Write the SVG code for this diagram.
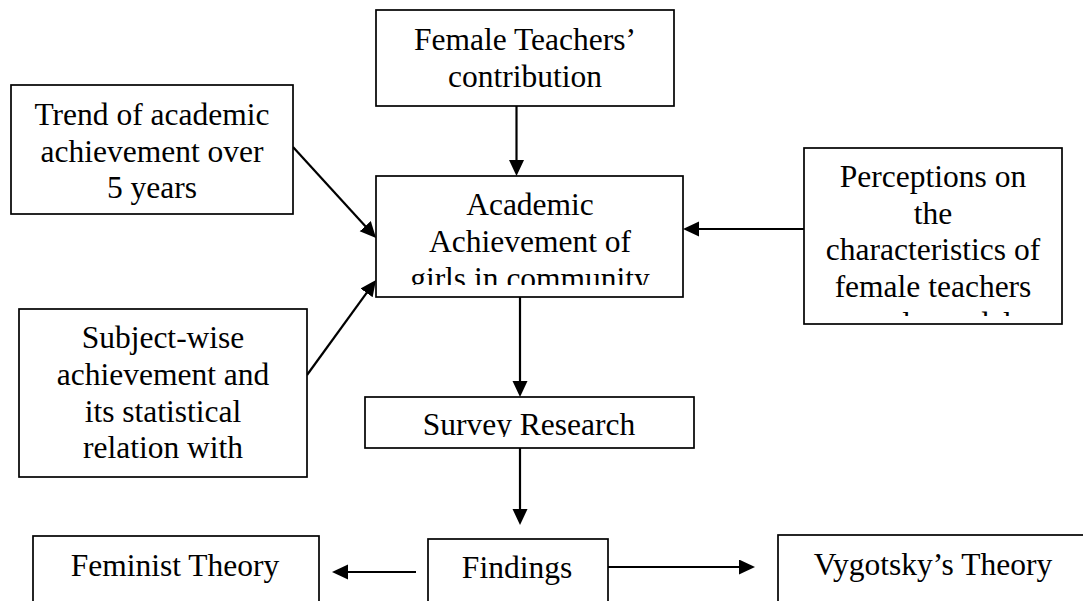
<svg xmlns="http://www.w3.org/2000/svg" width="1083" height="601" viewBox="0 0 1083 601">
<style>
.box{fill:#fff;stroke:#000;stroke-width:1.7}
.t{font-family:"Liberation Serif","Times New Roman",serif;font-size:31.5px;fill:#000;text-anchor:middle}
.c{stroke:#000;stroke-width:2.2;fill:none;marker-end:url(#ah)}
</style>
<defs>
<marker id="ah" markerUnits="userSpaceOnUse" markerWidth="18" markerHeight="16" refX="6" refY="7.5" orient="auto">
<path d="M0,0 L16,7.5 L0,15 z" fill="#000"/>
</marker>
<clipPath id="clipA"><rect x="376" y="176" width="307" height="109"/></clipPath>
<clipPath id="clipP"><rect x="804" y="148" width="258" height="168"/></clipPath>
<clipPath id="clipS"><rect x="365" y="397" width="329" height="40"/></clipPath>
</defs>
<rect width="1083" height="601" fill="#fff"/>
<g id="connectors">
<line class="c" x1="516.5" y1="106" x2="516.5" y2="166"/>
<line class="c" x1="293" y1="147" x2="369.3" y2="230.6"/>
<line class="c" x1="307" y1="375" x2="370.1" y2="288.1"/>
<line class="c" x1="804" y1="229" x2="693" y2="229"/>
<line class="c" x1="520" y1="297" x2="520" y2="387"/>
<line class="c" x1="520" y1="448" x2="520" y2="515"/>
<line class="c" x1="416" y1="572" x2="342" y2="572"/>
<line class="c" x1="608" y1="567" x2="745" y2="567"/>
</g>
<g id="female-teachers">
<rect class="box" x="376" y="10" width="298" height="96"/>
<text class="t" x="525" y="50">Female Teachers’</text>
<text class="t" x="525" y="87">contribution</text>
</g>
<g id="trend">
<rect class="box" x="11" y="85" width="282" height="129"/>
<text class="t" x="152" y="125">Trend of academic</text>
<text class="t" x="152" y="162">achievement over</text>
<text class="t" x="152" y="198">5 years</text>
</g>
<g id="academic">
<rect class="box" x="376" y="176" width="307" height="121"/>
<g clip-path="url(#clipA)">
<text class="t" x="530" y="215">Academic</text>
<text class="t" x="530" y="252">Achievement of</text>
<text class="t" x="530" y="289">girls in community</text>
</g>
</g>
<g id="perceptions">
<rect class="box" x="804" y="148" width="258" height="176"/>
<g clip-path="url(#clipP)">
<text class="t" x="933" y="187">Perceptions on</text>
<text class="t" x="933" y="223.5">the</text>
<text class="t" x="933" y="260">characteristics of</text>
<text class="t" x="933" y="297">female teachers</text>
<text class="t" x="933" y="333.5">as role models</text>
</g>
</g>
<g id="subject-wise">
<rect class="box" x="19" y="309" width="288" height="168"/>
<text class="t" x="163" y="348">Subject-wise</text>
<text class="t" x="163" y="385">achievement and</text>
<text class="t" x="163" y="421.5">its statistical</text>
<text class="t" x="163" y="458">relation with</text>
</g>
<g id="survey">
<rect class="box" x="365" y="397" width="329" height="51"/>
<g clip-path="url(#clipS)">
<text class="t" x="529" y="435">Survey Research</text>
</g>
</g>
<g id="findings">
<rect class="box" x="428" y="539" width="180" height="80"/>
<text class="t" x="517" y="578">Findings</text>
</g>
<g id="feminist">
<rect class="box" x="33" y="536" width="286" height="80"/>
<text class="t" x="175" y="576">Feminist Theory</text>
</g>
<g id="vygotsky">
<rect class="box" x="778" y="535" width="320" height="80"/>
<text class="t" x="933" y="575">Vygotsky’s Theory</text>
</g>
</svg>
